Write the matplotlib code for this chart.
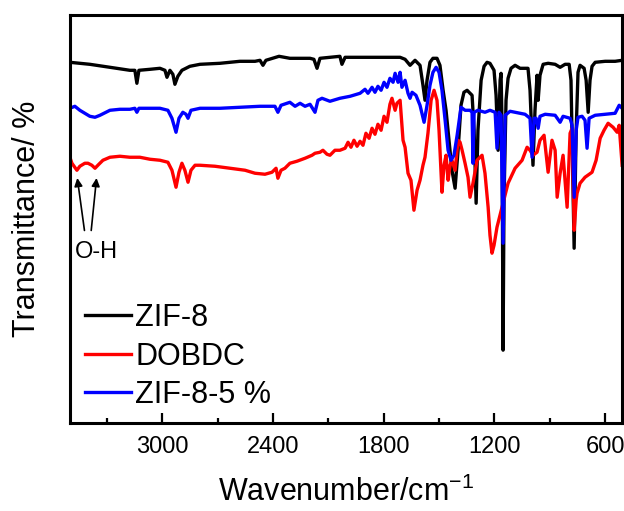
from matplotlib import pyplot as plt

plt.rcParams['font.family'] = ['Liberation Sans', 'DejaVu Sans']
plt.rcParams['mathtext.fontset'] = 'custom'
plt.rcParams['mathtext.rm'] = 'Liberation Sans'
plt.rcParams['mathtext.it'] = 'Liberation Sans'

# FTIR spectra, wavenumber (cm-1) and transmittance (arbitrary offset units)
wn_zif8 = [3500, 3392, 3283, 3175, 3148, 3137, 3126, 3066, 3012, 2985,
           2974, 2958, 2942, 2931, 2915, 2893, 2850, 2795, 2687, 2579,
           2497, 2470, 2454, 2438, 2367, 2308, 2253, 2199, 2178, 2161,
           2145, 2091, 2037, 2026, 2009, 1928, 1820, 1711, 1684, 1657,
           1630, 1603, 1587, 1576, 1565, 1549, 1533, 1511, 1495, 1478,
           1462, 1446, 1430, 1413, 1397, 1381, 1365, 1348, 1321, 1310,
           1299, 1289, 1272, 1256, 1240, 1224, 1202, 1191, 1180, 1169,
           1164, 1159, 1153, 1148, 1137, 1126, 1110, 1088, 1061, 1018,
           1007, 991, 980, 969, 963, 953, 936, 909, 871, 844,
           817, 795, 785, 768, 757, 747, 736, 714, 703, 692,
           682, 671, 654, 600, 546, 508]
t_zif8 = [361, 359, 356, 353, 353, 340, 353, 354, 355, 353,
          346, 353, 349, 339, 347, 353, 357, 359, 360, 362,
          362, 363, 358, 363, 367, 365, 365, 365, 364, 355,
          365, 366, 367, 359, 366, 366, 366, 366, 364, 358,
          363, 358, 338, 323, 343, 361, 365, 365, 358, 333,
          313, 283, 253, 235, 273, 318, 331, 333, 328, 293,
          220, 293, 343, 357, 361, 360, 353, 328, 273, 343,
          350, 303, 73, 223, 323, 345, 355, 358, 355, 355,
          333, 258, 313, 348, 323, 348, 359, 360, 359, 356,
          359, 359, 343, 175, 293, 351, 358, 355, 343, 311,
          343, 357, 361, 362, 362, 363]

wn_dobdc = [3500, 3489, 3462, 3446, 3419, 3402, 3381, 3364, 3343, 3321,
            3283, 3229, 3175, 3121, 3066, 3012, 2969, 2947, 2925, 2909,
            2893, 2877, 2860, 2844, 2822, 2795, 2714, 2633, 2551, 2497,
            2443, 2405, 2383, 2373, 2356, 2335, 2308, 2270, 2226, 2188,
            2172, 2145, 2129, 2107, 2091, 2064, 2037, 2009, 1993, 1977,
            1961, 1944, 1928, 1912, 1896, 1879, 1863, 1847, 1831, 1814,
            1798, 1782, 1766, 1755, 1738, 1728, 1711, 1695, 1684, 1668,
            1652, 1636, 1619, 1603, 1587, 1576, 1560, 1543, 1527, 1511,
            1500, 1495, 1484, 1473, 1462, 1451, 1440, 1430, 1413, 1397,
            1386, 1375, 1359, 1343, 1332, 1316, 1294, 1278, 1267, 1251,
            1234, 1224, 1213, 1202, 1186, 1159, 1126, 1088, 1050, 1023,
            1007, 991, 969, 953, 931, 909, 888, 871, 860, 844,
            828, 806, 790, 779, 768, 757, 752, 736, 709, 671,
            649, 627, 606, 584, 557, 535, 524, 508]
t_dobdc = [266, 260, 253, 257, 260, 260, 258, 255, 259, 263,
           266, 267, 266, 266, 264, 263, 261, 253, 236, 251,
           260, 253, 241, 253, 258, 258, 257, 255, 253, 250,
           249, 251, 255, 245, 253, 255, 260, 262, 265, 268,
           270, 271, 273, 269, 268, 273, 273, 275, 281, 276,
           283, 277, 282, 278, 290, 285, 295, 289, 299, 293,
           307, 301, 319, 325, 313, 320, 323, 283, 276, 250,
           243, 213, 233, 243, 258, 266, 290, 323, 333, 323,
           293, 273, 231, 258, 268, 243, 258, 263, 253, 283,
           281, 273, 260, 246, 226, 240, 263, 266, 268, 250,
           216, 188, 170, 178, 196, 216, 240, 255, 263, 276,
           273, 268, 271, 283, 288, 251, 283, 273, 226, 250,
           268, 216, 290, 295, 193, 223, 230, 240, 246, 251,
           263, 285, 293, 300, 296, 291, 298, 258]

wn_zif8_5 = [3500, 3473, 3446, 3419, 3392, 3364, 3337, 3283, 3229, 3175,
             3148, 3137, 3126, 3066, 3012, 2969, 2947, 2925, 2909, 2888,
             2871, 2860, 2844, 2795, 2687, 2579, 2470, 2389, 2373, 2356,
             2308, 2280, 2253, 2226, 2199, 2172, 2156, 2134, 2091, 2037,
             1982, 1928, 1901, 1885, 1863, 1847, 1831, 1814, 1798, 1782,
             1766, 1749, 1738, 1722, 1711, 1701, 1684, 1668, 1657, 1646,
             1625, 1603, 1581, 1565, 1549, 1533, 1516, 1500, 1484, 1467,
             1451, 1435, 1419, 1402, 1381, 1359, 1332, 1321, 1316, 1310,
             1289, 1251, 1224, 1196, 1186, 1175, 1164, 1153, 1142, 1115,
             1088, 1061, 1034, 1007, 996, 985, 974, 963, 953, 925,
             871, 844, 828, 790, 779, 768, 757, 747, 725, 709,
             698, 687, 654, 600, 546, 524, 508]
t_zif8_5 = [315, 317, 313, 310, 307, 306, 308, 313, 314, 314,
            315, 311, 315, 315, 315, 313, 305, 291, 305, 311,
            309, 305, 313, 315, 315, 316, 317, 317, 311, 318,
            321, 317, 320, 317, 319, 311, 323, 325, 322, 325,
            327, 330, 334, 330, 336, 331, 337, 333, 341, 336,
            345, 341, 350, 341, 351, 336, 343, 330, 325, 331,
            328, 318, 301, 318, 338, 351, 356, 351, 333, 303,
            273, 263, 268, 288, 316, 313, 313, 311, 260, 311,
            313, 311, 313, 311, 275, 311, 308, 180, 308, 312,
            311, 310, 309, 305, 266, 305, 305, 295, 307, 309,
            308, 301, 307, 305, 298, 226, 293, 306, 307, 303,
            275, 305, 308, 309, 310, 318, 315]

fig = plt.figure(figsize=(6.24, 5.11), dpi=100)
ax = fig.add_axes([0.112, 0.172, 0.885, 0.798])

ax.plot(wn_zif8, t_zif8, color='black', lw=2.4, label='ZIF-8')
ax.plot(wn_dobdc, t_dobdc, color='red', lw=2.4, label='DOBDC')
ax.plot(wn_zif8_5, t_zif8_5, color='blue', lw=2.4, label='ZIF-8-5 %')

ax.annotate('', xy=(3462, 248), xytext=(3419, 190),
            arrowprops=dict(arrowstyle='-|>', color='black', lw=1.2, mutation_scale=12))
ax.annotate('', xy=(3354, 248), xytext=(3386, 190),
            arrowprops=dict(arrowstyle='-|>', color='black', lw=1.2, mutation_scale=12))
ax.text(3473, 171, 'O-H', fontsize=17, ha='left', va='center')

ax.set_xlim(3500, 508)
ax.set_ylim(0, 408)
ax.set_xticks([3000, 2400, 1800, 1200, 600])
ax.set_xticks([3300, 2700, 2100, 1500, 900], minor=True)
ax.set_yticks([])
ax.tick_params(axis='x', which='major', direction='in', length=7, width=1.6,
               labelsize=17, pad=9)
ax.tick_params(axis='x', which='minor', direction='in', length=3.5, width=1.6)
for s in ax.spines.values():
    s.set_linewidth(2.2)

ax.set_xlabel('Wavenumber/cm$^{-1}$', fontsize=22, labelpad=14)
ax.set_ylabel('Transmittance/ %', fontsize=22, labelpad=20)

ax.legend(loc='lower left', bbox_to_anchor=(0.027, 0.032), frameon=False,
          fontsize=22, handlelength=1.5, handletextpad=0.15, labelspacing=0.28,
          borderpad=0, borderaxespad=0)

plt.savefig('out.png', dpi=100)
